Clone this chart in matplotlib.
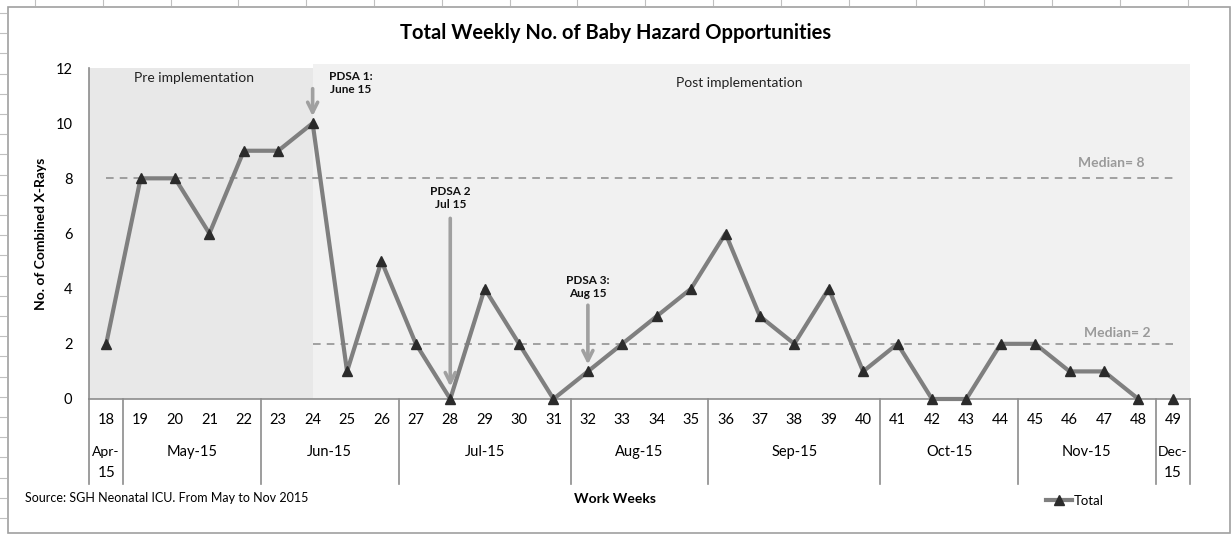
import numpy as np
import matplotlib
matplotlib.use("Agg")
import matplotlib.pyplot as plt
from matplotlib.patches import Rectangle
from matplotlib.lines import Line2D
import matplotlib.transforms as mtransforms

plt.rcParams['font.family'] = ['Lato', 'DejaVu Sans']

# data
weeks = list(range(18, 50))
totals = [2, 8, 8, 6, 9, 9, 10, 1, 5, 2, 0, 4, 2, 0, 1, 2, 3, 4,
          6, 3, 2, 4, 1, 2, 0, 0, 2, 2, 1, 1, 0, 0]
months = ['Apr-\n15', 'May-15', 'Jun-15', 'Jul-15', 'Aug-15',
          'Sep-15', 'Oct-15', 'Nov-15', 'Dec-\n15']
month_first_week = [18, 19, 23, 27, 32, 36, 41, 45, 49]
median_pre = 8
median_post = 2
pdsa_weeks = [24, 28, 32]
pdsa_labels = ['PDSA 1:\nJune 15', 'PDSA 2\nJul 15', 'PDSA 3:\nAug 15']

line_col = '#7f7f7f'
marker_col = '#2b2b2b'
grey_txt = '#9a9a9a'
W, H = 1231, 534

fig = plt.figure(figsize=(12.31, 5.34), dpi=100)
ax = fig.add_axes([89 / W, 1 - 399 / H, 1101 / W, 331 / H])

x = np.arange(len(weeks))
idx = {w: i for i, w in enumerate(weeks)}
ax.set_xlim(-0.5, len(weeks) - 0.5)
ax.set_ylim(0, 12)

# shaded phases
split = idx[24]
ax.add_patch(Rectangle((-0.5, 0), split + 0.5, 12, color='#e8e8e8', zorder=0, lw=0))
ax.add_patch(Rectangle((split, 0), len(weeks) - 0.5 - split, 12.15, color='#f1f1f1',
                       zorder=0, lw=0, clip_on=False))

# medians
ax.plot([0, idx[49]], [median_pre, median_pre], ls=(0, (5, 4)), color='#8a8a8a', lw=1.1, zorder=1)
ax.plot([split, idx[49]], [median_post, median_post], ls=(0, (5, 4)), color='#8a8a8a', lw=1.1, zorder=1)
ax.text(29.2, median_pre + 0.56, 'Median= 8', color=grey_txt, fontsize=10,
        fontweight='bold', ha='center', va='center')
ax.text(29.4, median_post + 0.4, 'Median= 2', color=grey_txt, fontsize=10,
        fontweight='bold', ha='center', va='center')

# series (week 49 not joined)
ax.plot(x[:-1], totals[:-1], color=line_col, lw=3, zorder=3, clip_on=False)
ax.plot(x, totals, ls='none', marker='^', ms=7, color=marker_col, zorder=4, clip_on=False)

# phase labels
ax.text(2.55, 11.64, 'Pre implementation', fontsize=10, ha='center', va='center', color='#222222')
ax.text(18.4, 11.46, 'Post implementation', fontsize=10, ha='center', va='center', color='#222222')

# PDSA arrows
arrow_from = [11.25, 6.55, 3.4]
arrow_to = [10.25, 0.45, 1.25]
label_y = [11.45, 7.3, 4.05]
label_dx = [1.1, 0, 0]
for w, lab, y0, y1, ly, dx in zip(pdsa_weeks, pdsa_labels, arrow_from, arrow_to, label_y, label_dx):
    i = idx[w]
    ax.annotate('', xy=(i, y1), xytext=(i, y0),
                arrowprops=dict(arrowstyle='->', color='#a0a0a0', lw=2.6,
                                mutation_scale=18, shrinkA=0, shrinkB=0), zorder=5)
    ax.text(i + dx, ly, lab, fontsize=8.5, fontweight='bold', ha='center', va='center',
            multialignment='center', linespacing=1.25, color='#111111')

# axes styling
for s in ['top', 'right']:
    ax.spines[s].set_visible(False)
for s in ['left', 'bottom']:
    ax.spines[s].set_color('#8c8c8c')
    ax.spines[s].set_linewidth(1.2)
ax.set_yticks(range(0, 13, 2))
ax.tick_params(axis='y', length=0, pad=12, labelsize=10.5)
ax.set_xticks([])
ax.set_ylabel('No. of Combined X-Rays', fontsize=10, fontweight='bold', labelpad=6)

# category table below the axis
trans = mtransforms.blended_transform_factory(ax.transData, ax.transAxes)
for i, w in enumerate(weeks):
    ax.text(i, -0.064, str(w), transform=trans, ha='center', va='center', fontsize=10.5)
bounds = [idx[w] - 0.5 for w in month_first_week] + [len(weeks) - 0.5]
for b in bounds:
    ax.add_line(Line2D([b, b], [0, -0.257], transform=trans, color='#8c8c8c', lw=1.2, clip_on=False))
for k, m in enumerate(months):
    c = (bounds[k] + bounds[k + 1]) / 2
    if '\n' in m:
        top, bot = m.split('\n')
        ax.text(c, -0.16, top, transform=trans, ha='center', va='center', fontsize=10)
        ax.text(c, -0.224, bot, transform=trans, ha='center', va='center', fontsize=11)
    else:
        ax.text(c, -0.16, m, transform=trans, ha='center', va='center', fontsize=10.5)

fig.text(615 / W, 1 - 499 / H, 'Work Weeks', fontsize=10, fontweight='bold', ha='center', va='center')
fig.text(25 / W, 1 - 498 / H, 'Source: SGH Neonatal ICU. From May to Nov 2015', fontsize=9,
         ha='left', va='center')
fig.text(0.5, 1 - 33 / H, 'Total Weekly No. of Baby Hazard Opportunities', fontsize=14.5,
         fontweight='bold', ha='center', va='center')

# legend
handle = Line2D([], [], color=line_col, lw=3, marker='^', ms=7, markerfacecolor=marker_col,
                markeredgecolor=marker_col)
fig.legend([handle], ['Total'], loc='center left', bbox_to_anchor=(1034 / W, 1 - 501 / H),
           frameon=False, fontsize=9.5, handlelength=2.0, handletextpad=0.1)

# outer frame and sheet edge ticks
fig.add_artist(Rectangle((8 / W, 1 / H), 1222 / W, 526 / H, transform=fig.transFigure,
                         fill=False, edgecolor='#a0a0a0', lw=1.2))
for yy in np.arange(13, 530, 20.2):
    fig.add_artist(Line2D([0, 6 / W], [1 - yy / H] * 2, transform=fig.transFigure,
                          color='#c0c0c0', lw=0.8))
for xx in np.arange(35, 1231, 67.8):
    fig.add_artist(Line2D([xx / W] * 2, [1, 1 - 5 / H], transform=fig.transFigure,
                          color='#c0c0c0', lw=0.8))

fig.savefig('out.png', dpi=100, facecolor='white')
